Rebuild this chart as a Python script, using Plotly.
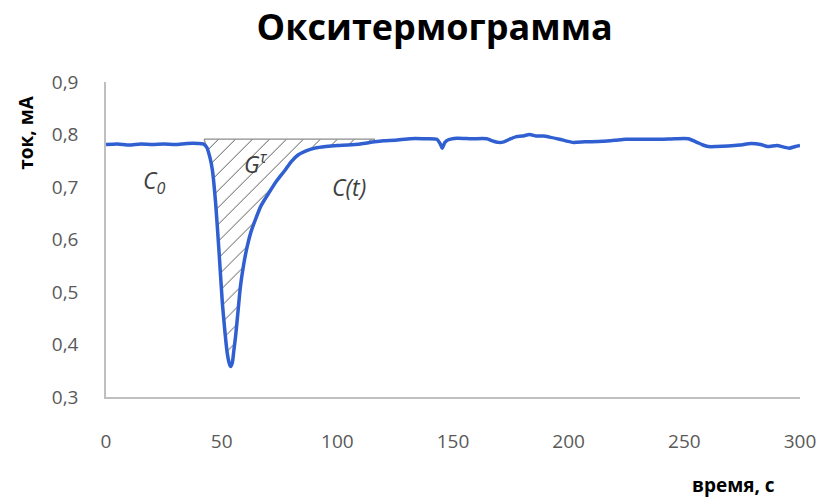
import plotly.graph_objects as go

# time, s
time_s = [0, 5, 10, 15, 20, 25, 30, 35, 40, 42, 43.5, 45, 46, 47.4, 48.9, 50.3, 51.5, 52.4, 53.3, 53.9,
          54.6, 55.3, 56, 57, 58.1, 59.5, 61, 62.7, 64.5, 67, 70.3, 73.5, 77.4, 80, 83, 86.5, 90.3, 95,
          100, 104.6, 110, 116, 120, 125, 131.6, 137, 143, 144.5, 145.3, 146.5, 148, 151.7, 158, 164.6,
          167, 169.6, 172, 175, 177.4, 180, 183.1, 186, 189, 191.7, 196, 201.7, 207, 214.6, 220, 224.6,
          232, 240, 246, 251.7, 255, 258, 260.3, 264, 268.9, 274, 278.9, 283, 286, 290, 293, 295.3, 298, 300]
# current, mA
current_ma = [0.781, 0.782, 0.780, 0.782, 0.781, 0.782, 0.781, 0.783, 0.783, 0.782, 0.776, 0.755, 0.732,
              0.669, 0.574, 0.479, 0.420, 0.384, 0.364, 0.358, 0.365, 0.390, 0.415, 0.460, 0.510, 0.552,
              0.586, 0.615, 0.637, 0.664, 0.688, 0.710, 0.732, 0.748, 0.761, 0.769, 0.774, 0.777, 0.779,
              0.780, 0.782, 0.786, 0.788, 0.789, 0.792, 0.792, 0.791, 0.782, 0.774, 0.785, 0.790, 0.793,
              0.792, 0.792, 0.788, 0.785, 0.786, 0.792, 0.796, 0.797, 0.800, 0.797, 0.797, 0.795, 0.791,
              0.785, 0.786, 0.787, 0.789, 0.791, 0.791, 0.791, 0.792, 0.792, 0.786, 0.780, 0.777, 0.777,
              0.778, 0.780, 0.783, 0.781, 0.777, 0.779, 0.776, 0.774, 0.777, 0.779]

# hatched area G^tau: between baseline C0 and curve
hatch_start = 42.4
hatch_end = 116
hatch_top = 0.791

x_ticks = [0, 50, 100, 150, 200, 250, 300]
y_ticks = [0.3, 0.4, 0.5, 0.6, 0.7, 0.8, 0.9]

seg = [(t, c) for t, c in zip(time_s, current_ma) if hatch_start <= t <= hatch_end]
hx = [hatch_start] + [t for t, _ in seg] + [hatch_end, hatch_start]
hy = [hatch_top] + [c for _, c in seg] + [hatch_top, hatch_top]

fig = go.Figure()
fig.add_trace(go.Scatter(
    x=hx, y=hy, mode="lines", fill="toself",
    line=dict(color="#8c8c8c", width=1.2),
    fillcolor="rgba(255,255,255,0)",
    fillpattern=dict(shape="/", size=12, solidity=0.07, fgcolor="#3a3a3a", fgopacity=1,
                     bgcolor="rgba(255,255,255,0)"),
    hoverinfo="skip", showlegend=False))
fig.add_trace(go.Scatter(
    x=time_s, y=current_ma, mode="lines",
    line=dict(color="#2F5FD0", width=3.5, shape="spline", smoothing=0.6),
    showlegend=False))

FONT = "Open Sans, Liberation Sans, sans-serif"
tick_font = dict(family=FONT, size=19, color="#595959")
pw, ph = 828 - 106 - 22, 497 - 82 - 100


def px_to_paper(px, py):
    return (px - 106) / pw, (497 - 100 - py) / ph


ylab_x, ylab_y = px_to_paper(25, 133)
xlab_x, xlab_y = px_to_paper(739, 485)

fig.update_layout(
    width=828, height=497,
    paper_bgcolor="white", plot_bgcolor="white",
    margin=dict(l=106, r=22, t=82, b=100),
    separators=",.",
    title=dict(text="<b>Окситермограмма</b>", x=0.525, xanchor="center", y=0.945, yanchor="middle",
               font=dict(family=FONT, size=36, color="black")),
    xaxis=dict(range=[0, 300], tickvals=x_ticks, showgrid=False, zeroline=False,
               showline=True, linecolor="#bfbfbf", linewidth=1.5, ticks="",
               tickfont=tick_font, ticklabelstandoff=26),
    yaxis=dict(range=[0.3, 0.9], tickvals=y_ticks, tickformat=".1f", showgrid=False, zeroline=False,
               showline=True, linecolor="#bfbfbf", linewidth=1.5, ticks="",
               tickfont=tick_font, ticklabelstandoff=22),
    annotations=[
        dict(x=21, y=0.71, xref="x", yref="y", text="<i>C<sub>0</sub></i>", showarrow=False,
             font=dict(family=FONT, size=23, color="#404040")),
        dict(x=65, y=0.745, xref="x", yref="y", text="<i>G<sup>τ</sup></i>", showarrow=False,
             font=dict(family=FONT, size=23, color="#404040")),
        dict(x=105, y=0.70, xref="x", yref="y", text="<i>C(t)</i>", showarrow=False,
             font=dict(family=FONT, size=23, color="#404040")),
        dict(x=ylab_x, y=ylab_y, xref="paper", yref="paper", text="<b>ток, мА</b>", showarrow=False,
             textangle=-90, xanchor="center", yanchor="middle",
             font=dict(family=FONT, size=19, color="black")),
        dict(x=xlab_x, y=xlab_y, xref="paper", yref="paper", text="<b>время, с</b>", showarrow=False,
             xanchor="center", yanchor="middle",
             font=dict(family=FONT, size=19, color="black")),
    ],
)

fig.write_html("out.html")
